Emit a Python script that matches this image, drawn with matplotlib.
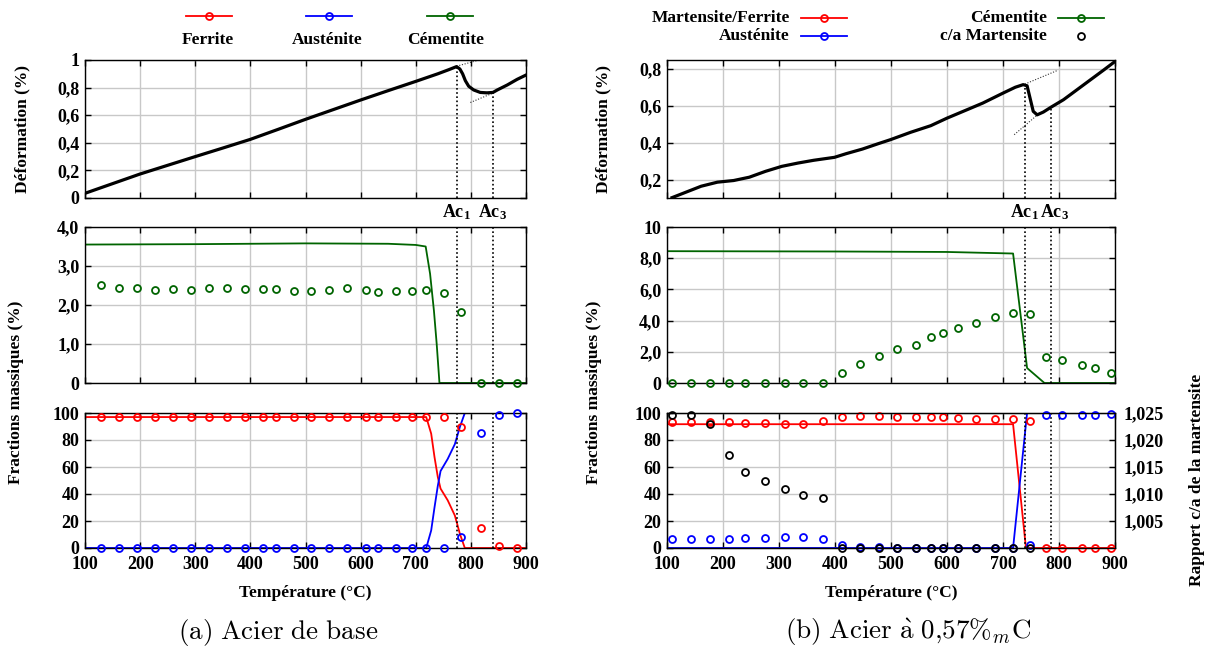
import numpy as np
import matplotlib
matplotlib.use("Agg")
import matplotlib.pyplot as plt
import matplotlib.transforms as mtransforms
from matplotlib.lines import Line2D

# ================= (a) Acier de base =================
# dilatométrie
dil_a_T = [100, 150, 200, 250, 300, 350, 400, 450, 500, 550, 600, 650, 700, 740, 760, 774,
           780, 785, 790, 796, 805, 817, 829, 840, 848, 866, 884, 900]
dil_a_eps = [0.034, 0.104, 0.174, 0.237, 0.30, 0.362, 0.425, 0.497, 0.57, 0.64, 0.71, 0.778,
             0.845, 0.9, 0.93, 0.952, 0.935, 0.90, 0.85, 0.81, 0.783, 0.765, 0.762, 0.765,
             0.783, 0.819, 0.86, 0.891]
tan_a_up_T, tan_a_up = [774, 815], [0.955, 1.0]
tan_a_low_T, tan_a_low = [799, 840], [0.692, 0.76]
ac_a = [774, 840]

# lignes (calcul)
cem_a_line_T = [100, 300, 500, 650, 700, 718, 726, 733, 738, 743, 900]
cem_a_line = [3.55, 3.56, 3.58, 3.57, 3.54, 3.50, 2.8, 1.85, 1.0, 0, 0]
phase_a_line_T = [100, 719, 728, 734, 740, 745, 758, 771, 780, 789, 900]
fer_a_line = [97, 97, 84.7, 67.4, 52.6, 44, 35.3, 24, 10.6, 0, 0]
aus_a_line = [0, 0, 13, 30, 46, 57, 66, 77, 89.6, 100, 100]

# points (mesures)
pts_a_T = [129, 162, 194, 227, 260, 293, 325, 358, 390, 423, 446, 479, 510, 542, 575, 609,
           631, 664, 693, 719, 751, 782, 818, 851, 883]
fer_a_pts = [97.3] * 21 + [90, 14.6, 1.5, 0]
aus_a_pts = [0] * 21 + [8.1, 85.5, 98.5, 100]
cem_a_pts = [2.52, 2.44, 2.43, 2.38, 2.42, 2.39, 2.44, 2.44, 2.41, 2.41, 2.41, 2.37, 2.37,
             2.38, 2.44, 2.38, 2.34, 2.36, 2.35, 2.38, 2.32, 1.82, 0, 0, 0]

# ================= (b) Acier à 0,57%C =================
dil_b_T = [109, 161, 190, 219, 247, 276, 305, 334, 362, 399, 420, 449, 477, 499, 535, 571,
           600, 636, 664, 700, 722, 736, 743, 749, 754, 761, 772, 786, 808, 844, 880, 900]
dil_b_eps = [0.102, 0.164, 0.186, 0.195, 0.213, 0.245, 0.272, 0.29, 0.305, 0.321, 0.341,
             0.366, 0.395, 0.417, 0.457, 0.493, 0.534, 0.58, 0.616, 0.67, 0.702, 0.716,
             0.71, 0.634, 0.571, 0.552, 0.567, 0.594, 0.634, 0.715, 0.796, 0.842]
tan_b_up_T, tan_b_up = [739, 797], [0.719, 0.793]
tan_b_low_T, tan_b_low = [720, 765], [0.444, 0.561]
ac_b = [739, 786.5]

cem_b_line_T = [100, 400, 600, 718, 743, 774, 900]
cem_b_line = [8.45, 8.43, 8.40, 8.30, 0.96, 0, 0]
fer_b_line_T = [100, 718, 741, 900]
fer_b_line = [91.7, 91.7, 0, 0]
aus_b_line_T = [100, 718, 743, 900]
aus_b_line = [0, 0, 100, 100]

pts_b_T = [109, 142, 177, 210, 240, 275, 310, 343, 378, 412, 445, 478, 511, 544, 572, 593,
           620, 652, 685, 717, 748, 777, 805, 841, 864, 893]
fer_b_pts = [93.1, 93.1, 93.1, 93.3, 92.8, 92.3, 91.9, 91.9, 93.8, 96.8, 97.8, 97.8, 97.3,
             97.0, 96.8, 96.8, 96.3, 95.8, 95.6, 95.3, 93.8, 0, 0, 0, 0, 0]
aus_b_pts = [6.9, 6.9, 6.9, 6.9, 7.2, 7.4, 7.9, 7.9, 6.4, 2.5, 1.0, 0.5, 0, 0, 0, 0, 0, 0,
             0, 0, 2.0, 98.3, 98.3, 98.8, 98.8, 99.5]
cem_b_pts = [0, 0, 0, 0, 0, 0, 0, 0, 0, 0.62, 1.22, 1.71, 2.18, 2.46, 2.97, 3.18, 3.5, 3.87,
             4.23, 4.49, 4.44, 1.65, 1.5, 1.18, 0.94, 0.66]
ca_b_pts = [1.0247, 1.0247, 1.0230, 1.0172, 1.0140, 1.0124, 1.0109, 1.0099, 1.0092] + [1.0] * 12

# ticks
temp_ticks = [100, 200, 300, 400, 500, 600, 700, 800, 900]
eps_a_ticks = [0, 0.2, 0.4, 0.6, 0.8, 1.0]
eps_a_labels = ['0', '0,2', '0,4', '0,6', '0,8', '1']
eps_b_ticks = [0.2, 0.4, 0.6, 0.8]
eps_b_labels = ['0,2', '0,4', '0,6', '0,8']
cem_a_ticks = [0, 1, 2, 3, 4]
cem_a_labels = ['0', '1,0', '2,0', '3,0', '4,0']
cem_b_ticks = [0, 2, 4, 6, 8, 10]
cem_b_labels = ['0', '2,0', '4,0', '6,0', '8,0', '10']
frac_ticks = [0, 20, 40, 60, 80, 100]
ca_ticks = [1.005, 1.010, 1.015, 1.020, 1.025]
ca_labels = ['1,005', '1,010', '1,015', '1,020', '1,025']

RED, BLUE, GREEN = '#ff0000', '#0000ff', '#006400'
TICK_FS, LAB_FS = 13, 12.5

plt.rcParams['font.family'] = ['Liberation Serif', 'DejaVu Serif']
plt.rcParams['font.weight'] = 'bold'
plt.rcParams['mathtext.fontset'] = 'custom'
plt.rcParams['mathtext.rm'] = 'Liberation Serif:bold'
plt.rcParams['mathtext.it'] = 'Liberation Serif:italic:bold'
plt.rcParams['mathtext.bf'] = 'Liberation Serif:bold'
plt.rcParams['mathtext.default'] = 'rm'

W, H = 1212, 651
fig = plt.figure(figsize=(W / 100, H / 100), dpi=100)


def box(cols, rows):
    x0, x1 = cols
    y0, y1 = rows
    return [x0 / W, 1 - y1 / H, (x1 - x0) / W, (y1 - y0) / H]


def style(ax, labelbottom=False, right=True):
    ax.set_xlim(100, 900)
    ax.set_xticks(temp_ticks)
    ax.grid(True, color='#c8c8c8', lw=1.0)
    ax.set_axisbelow(True)
    ax.tick_params(direction='in', length=4, width=1, top=True, right=right,
                   labelsize=TICK_FS, labelbottom=labelbottom, pad=4)
    ax.tick_params(axis='x', pad=6)
    for s in ax.spines.values():
        s.set_linewidth(1.0)


def pts(ax, x, y, c):
    ax.plot(x, y, 'o', ls='none', ms=5, mfc='none', mec=c, mew=1.3, clip_on=False, zorder=5)


def ac_labels(ax, ac, offs=(0, 0)):
    tr = mtransforms.blended_transform_factory(ax.transData, ax.transAxes)
    ax.text(ac[0] + offs[0], -0.1, 'Ac$_1$', transform=tr, ha='center', va='center', fontsize=13)
    ax.text(ac[1] + offs[1], -0.1, 'Ac$_3$', transform=tr, ha='center', va='center', fontsize=13)


dot = dict(color='black', lw=1.2, ls=(0, (1, 1.5)))
tdot = dict(color='#333333', lw=0.8, ls=(0, (1, 1.5)))

colL, colR = (85, 526), (667, 1115)
rows = [(60, 198), (227, 383), (413, 548)]

# ---------------- colonne (a) ----------------
ax = fig.add_axes(box(colL, rows[0]))
style(ax)
ax.set_ylim(0, 1)
ax.set_yticks(eps_a_ticks)
ax.set_yticklabels(eps_a_labels)
ax.plot(dil_a_T, dil_a_eps, color='black', lw=2.3, zorder=4)
ax.plot(tan_a_up_T, tan_a_up, **tdot)
ax.plot(tan_a_low_T, tan_a_low, **tdot)
for a in ac_a:
    ax.plot([a, a], [0, np.interp(a, dil_a_T, dil_a_eps)], **dot)
ac_labels(ax, ac_a)

ax = fig.add_axes(box(colL, rows[1]))
style(ax)
ax.set_ylim(0, 4)
ax.set_yticks(cem_a_ticks)
ax.set_yticklabels(cem_a_labels)
ax.plot(cem_a_line_T, cem_a_line, color=GREEN, lw=1.3)
pts(ax, pts_a_T, cem_a_pts, GREEN)
for a in ac_a:
    ax.axvline(a, **dot)

ax = fig.add_axes(box(colL, rows[2]))
style(ax, labelbottom=True)
ax.set_ylim(0, 100)
ax.set_yticks(frac_ticks)
ax.plot(phase_a_line_T, fer_a_line, color=RED, lw=1.3)
ax.plot(phase_a_line_T, aus_a_line, color=BLUE, lw=1.3)
pts(ax, pts_a_T, fer_a_pts, RED)
pts(ax, pts_a_T, aus_a_pts, BLUE)
for a in ac_a:
    ax.axvline(a, **dot)

# ---------------- colonne (b) ----------------
ax = fig.add_axes(box(colR, rows[0]))
style(ax)
ax.set_ylim(0.1, 0.85)
ax.set_yticks(eps_b_ticks)
ax.set_yticklabels(eps_b_labels)
ax.plot(dil_b_T, dil_b_eps, color='black', lw=2.3, zorder=4)
ax.plot(tan_b_up_T, tan_b_up, **tdot)
ax.plot(tan_b_low_T, tan_b_low, **tdot)
for a in ac_b:
    ax.plot([a, a], [0.1, np.interp(a, dil_b_T, dil_b_eps)], **dot)
ac_labels(ax, ac_b, offs=(0, 6))

ax = fig.add_axes(box(colR, rows[1]))
style(ax)
ax.set_ylim(0, 10)
ax.set_yticks(cem_b_ticks)
ax.set_yticklabels(cem_b_labels)
ax.plot(cem_b_line_T, cem_b_line, color=GREEN, lw=1.3)
pts(ax, pts_b_T, cem_b_pts, GREEN)
for a in ac_b:
    ax.axvline(a, **dot)

ax = fig.add_axes(box(colR, rows[2]))
style(ax, labelbottom=True, right=False)
ax.set_ylim(0, 100)
ax.set_yticks(frac_ticks)
ax.plot(fer_b_line_T, fer_b_line, color=RED, lw=1.3)
ax.plot(aus_b_line_T, aus_b_line, color=BLUE, lw=1.3)
pts(ax, pts_b_T, fer_b_pts, RED)
pts(ax, pts_b_T, aus_b_pts, BLUE)
for a in ac_b:
    ax.axvline(a, **dot)
ax2 = ax.twinx()
ax2.set_ylim(1.0, 1.025)
ax2.set_yticks(ca_ticks)
ax2.set_yticklabels(ca_labels)
ax2.tick_params(direction='in', length=4, width=1, labelsize=TICK_FS, pad=6)
pts(ax2, pts_b_T[:len(ca_b_pts)], ca_b_pts, 'black')

# ---------------- textes ----------------
def ftext(x, y, s, **kw):
    fig.text(x / W, 1 - y / H, s, ha='center', va='center', **kw)


ftext(22, 129, 'Déformation (%)', rotation=90, fontsize=LAB_FS)
ftext(603, 129, 'Déformation (%)', rotation=90, fontsize=LAB_FS)
ftext(16, 392, 'Fractions massiques (%)', rotation=90, fontsize=LAB_FS)
ftext(594, 392, 'Fractions massiques (%)', rotation=90, fontsize=LAB_FS)
ftext(1197, 480, 'Rapport c/a de la martensite', rotation=90, fontsize=LAB_FS)
ftext(305, 593, 'Température (°C)', fontsize=LAB_FS)
ftext(891, 593, 'Température (°C)', fontsize=LAB_FS)

fig.text(278 / W, 1 - 632 / H, r'$\mathrm{(a)\ Acier\ de\ base}$', ha='center', va='center',
         fontsize=19.5, math_fontfamily='cm')
fig.text(908 / W, 1 - 632 / H, r'$\mathrm{(b)\ Acier\ \grave{a}\ 0{,}57\%}_{\mathit{m}}\mathrm{C}$',
         ha='center', va='center', fontsize=19.5, math_fontfamily='cm')


# légendes
def sample(x0, x1, y, c, line=True):
    if line:
        fig.add_artist(Line2D([x0 / W, x1 / W], [1 - y / H] * 2, color=c, lw=1.3))
    fig.add_artist(Line2D([(x0 + x1) / 2 / W], [1 - y / H], marker='o', ms=5, mfc='none',
                          mec=c, mew=1.3, ls='none'))


for (x0, x1, xt, lab, c) in [(186, 232, 208, 'Ferrite', RED),
                             (306, 352, 327, 'Austénite', BLUE),
                             (427, 473, 446, 'Cémentite', GREEN)]:
    sample(x0, x1, 16, c)
    ftext(xt, 40, lab, fontsize=LAB_FS)

for (xr, y, lab, c, line) in [(790, 18, 'Martensite/Ferrite', RED, True),
                              (790, 36, 'Austénite', BLUE, True),
                              (1047, 18, 'Cémentite', GREEN, True),
                              (1047, 36, 'c/a Martensite', 'black', False)]:
    fig.text(xr / W, 1 - y / H, lab, ha='right', va='center', fontsize=LAB_FS)
    sample(xr + 11, xr + 57, y, c, line)

fig.savefig('out.png', dpi=100)
